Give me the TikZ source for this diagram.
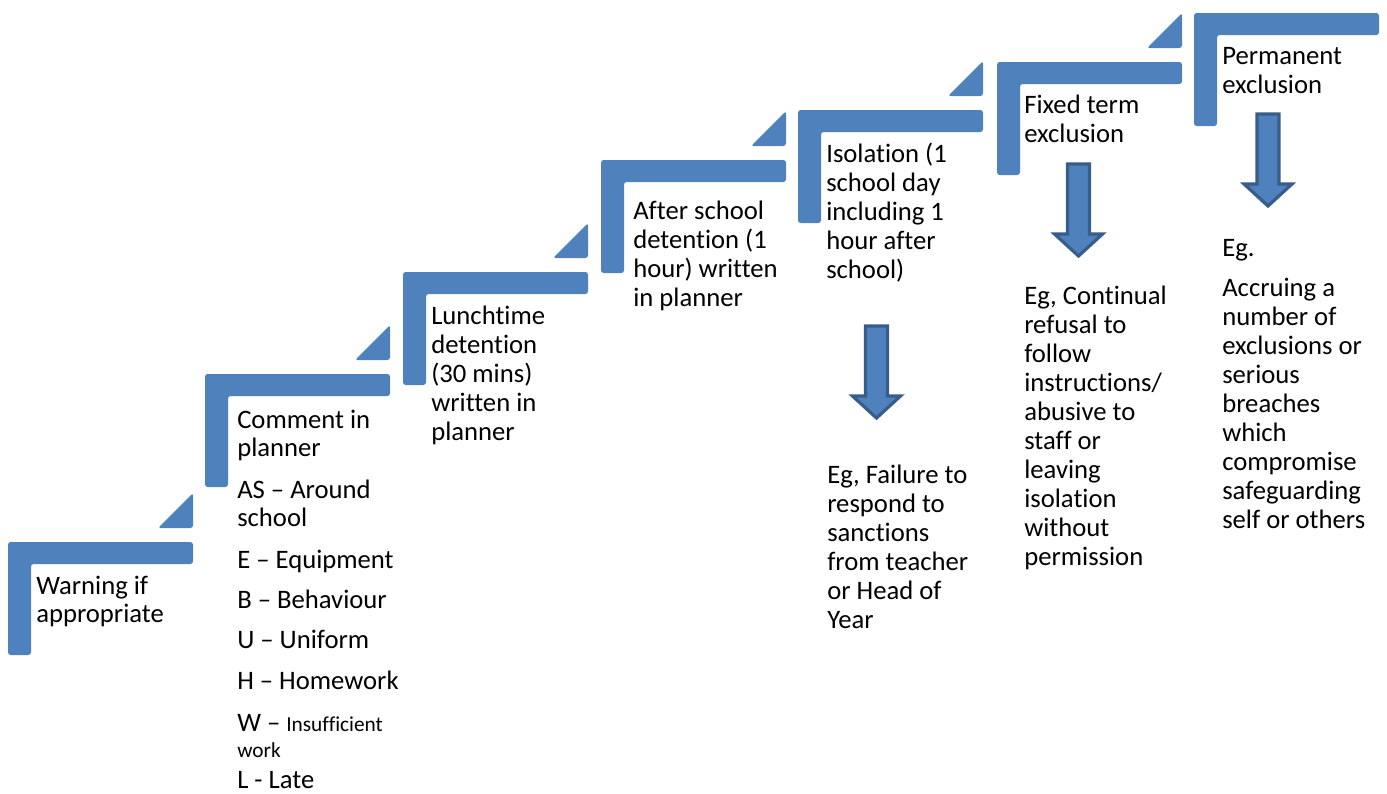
\documentclass[tikz,border=0pt]{standalone}
\usepackage{fontspec}
\setmainfont{Carlito}[Ligatures=NoCommon]
\definecolor{stepblue}{HTML}{4F81BD}
\definecolor{arrowedge}{HTML}{385D8A}
\newcommand\fs{\rule{0pt}{16pt}}
\begin{document}
\begin{tikzpicture}[x=0.75pt,y=-0.75pt,
  stepshape/.style={fill=stepblue, rounded corners=2pt},
  downarrow/.style={fill=stepblue, draw=arrowedge, line width=2.4pt, line join=miter},
  txt/.style={anchor=north west, inner sep=0pt, align=left, text=black,
    font=\fontsize{20}{21.75}\selectfont},
  txtb/.style={txt, font=\fontsize{20}{21}\selectfont}]
\useasboundingbox (0,0) rectangle (1387,793);
% steps
\foreach \x/\y [count=\i] in {8/542,205/374,403/272,601/160,798/110,997/62,1194/13}{
  \fill[stepshape] (\x,\y) -- ++(185,0) -- ++(0,22) -- ++(-162,0) -- ++(0,91) -- ++(-23,0) -- cycle;
  \coordinate (s\i) at (\x,\y);
}
% triangles
\foreach \x/\y [count=\i] in {8/542,205/374,403/272,601/160,798/110,997/62}{
  \fill[stepshape] (\x+185,\y-14) -- ++(0,-35) -- ++(-35,35) -- cycle;
}
% down arrows
\foreach \cx/\ty in {876.5/326,1078.5/164,1268/114}{
  \draw[downarrow] (\cx-11,\ty) -- (\cx+11,\ty) -- (\cx+11,\ty+70) -- (\cx+24,\ty+70)
    -- (\cx,\ty+92) -- (\cx-24,\ty+70) -- (\cx-11,\ty+70) -- cycle;
}
% texts (top = baseline - 21.33)
\begin{scope}[shift={(0,1.5)}]
\node[txtb] (t1) at (36,571.7) {\fs Warning if\\appropriate};
\node[txtb] (t2a) at (237,405.7) {\fs Comment in\\planner};
\node[txtb] (t2b) at (237,475.7) {\fs AS – Around\\school};
\node[txtb] (t2c) at (237,545.7) {\fs E – Equipment};
\node[txtb] (t2d) at (237,585.7) {\fs B – Behaviour};
\node[txtb] (t2e) at (237,625.7) {\fs U – Uniform};
\node[txtb] (t2f) at (237,666.7) {\fs H – Homework};
\node[txt, font=\fontsize{20}{19.5}\selectfont] (t2g) at (237,708.7)
  {\fs W – {\fontsize{16}{19.5}\selectfont Insufficient}\\{\fontsize{16}{19.5}\selectfont work}};
\node[txt] (t3) at (431,301.7) {\fs Lunchtime\\detention\\(30 mins)\\written in\\planner};
\node[txt] (t4) at (633,196.7) {\fs After school\\detention (1\\hour) written\\in planner};
\node[txt] (t5) at (826,139.7) {\fs Isolation (1\\school day\\including 1\\hour after\\school)};
\node[txt] (t6) at (1024,90.2) {\fs Fixed term\\exclusion};
\node[txt] (t7) at (1222,41.7) {\fs Permanent\\exclusion};
\node[txt] (t5b) at (827,460.2) {\fs Eg, Failure to\\respond to\\sanctions\\from teacher\\or Head of\\Year};
\node[txt] (t6b) at (1024,281.7) {\fs Eg, Continual\\refusal to\\follow\\instructions/\\abusive to\\staff or\\leaving\\isolation\\without\\permission};
\node[txt] (t7a) at (1222,233.7) {\fs Eg.};
\node[txt] (t7b) at (1222,273.7) {\fs Accruing a\\number of\\exclusions or\\serious\\breaches\\which\\compromise\\safeguarding\\self or others};
\end{scope}
\node[txtb] (t2h) at (237,767.2) {\fs L - Late};
\end{tikzpicture}
\end{document}
